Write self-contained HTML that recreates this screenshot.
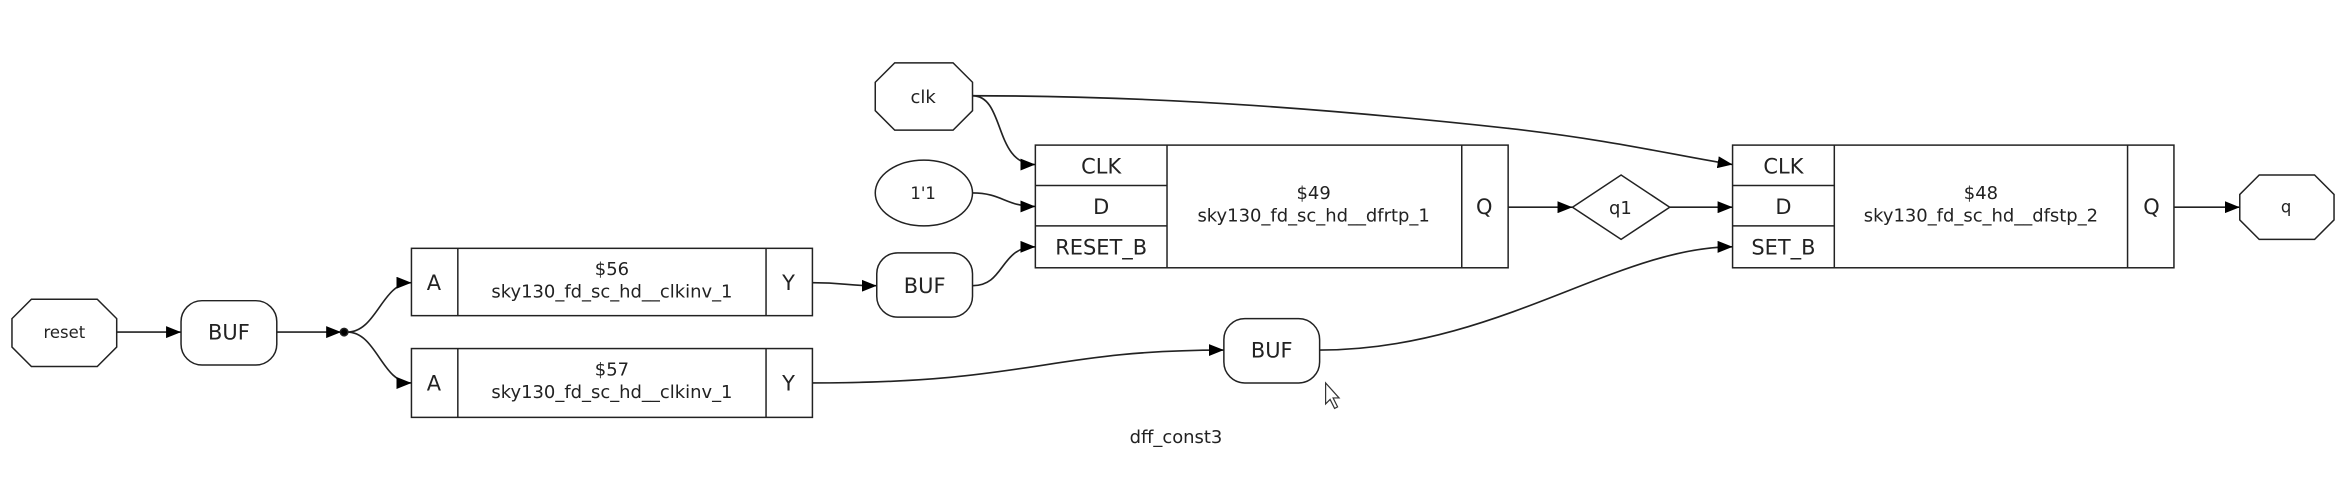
<!DOCTYPE html>
<html><head><meta charset="utf-8"><style>
html,body{margin:0;padding:0;background:#fff;width:2346px;height:482px;overflow:hidden}
svg{display:block}
text{font-family:"DejaVu Sans","Liberation Sans",sans-serif;fill:#222}
</style></head><body>
<svg width="2346" height="482" viewBox="0 0 1568 322.2" preserveAspectRatio="none" xmlns="http://www.w3.org/2000/svg">
<defs><marker id="a" markerWidth="10" markerHeight="8" refX="10" refY="4" orient="auto" markerUnits="userSpaceOnUse"><path d="M0,0 L10,4 L0,8 Z" fill="#000"/></marker></defs>
<g fill="none" stroke="#222" stroke-width="1">
<!-- reset octagon -->
<polygon points="21,200 65,200 78,213 78,232 65,245 21,245 8,232 8,213" fill="#fff"/>
<rect x="121" y="201" width="64" height="43" rx="14" fill="#fff"/>
<circle cx="230" cy="222" r="2.5" fill="#000"/>
<!-- $56 -->
<rect x="275" y="166" width="268" height="45" fill="#fff"/>
<line x1="306" y1="166" x2="306" y2="211"/><line x1="512" y1="166" x2="512" y2="211"/>
<rect x="275" y="233" width="268" height="46" fill="#fff"/>
<line x1="306" y1="233" x2="306" y2="279"/><line x1="512" y1="233" x2="512" y2="279"/>
<rect x="586" y="169" width="64" height="43" rx="14" fill="#fff"/>
<rect x="818" y="213" width="64" height="43" rx="14" fill="#fff"/>
<polygon points="598,42 637,42 650,55 650,74 637,87 598,87 585,74 585,55" fill="#fff"/>
<ellipse cx="617.5" cy="129" rx="32.5" ry="22" fill="#fff"/>
<!-- $49 -->
<rect x="692" y="97" width="316" height="82" fill="#fff"/>
<line x1="780" y1="97" x2="780" y2="179"/><line x1="977" y1="97" x2="977" y2="179"/>
<line x1="692" y1="124" x2="780" y2="124"/><line x1="692" y1="151" x2="780" y2="151"/>
<polygon points="1051,138.5 1083.5,117 1116,138.5 1083.5,160" fill="#fff"/>
<!-- $48 -->
<rect x="1158" y="97" width="295" height="82" fill="#fff"/>
<line x1="1226" y1="97" x2="1226" y2="179"/><line x1="1422" y1="97" x2="1422" y2="179"/>
<line x1="1158" y1="124" x2="1226" y2="124"/><line x1="1158" y1="151" x2="1226" y2="151"/>
<polygon points="1510,117 1547,117 1560,130 1560,147 1547,160 1510,160 1497,147 1497,130" fill="#fff"/>
</g>
<g fill="none" stroke="#222" stroke-width="1.1" marker-end="url(#a)">
<path d="M78,222 L121,222"/>
<path d="M185,222 L228,222"/>
<path d="M232,222 C252,222 255,189 275,189"/>
<path d="M232,222 C252,222 255,256 275,256"/>
<path d="M543,189 C565,189 566,191 586,191"/>
<path d="M543,256 C690,256 700,234 818,234"/>
<path d="M650,191 C672,191 668,165 692,165"/>
<path d="M650,64 C672,64 664,110 692,110"/>
<path d="M650,64 C780,64 900,74 1010,86 C1080,94 1120,104 1158,110"/>
<path d="M650,129 C670,129 672,138 692,138"/>
<path d="M1008,138.5 L1051,138.5"/>
<path d="M1116,138.5 L1158,138.5"/>
<path d="M882,234 C1000,234 1080,165 1158,165"/>
<path d="M1453,138.5 L1497,138.5"/>
</g>
<g text-anchor="middle">
<text x="43" y="226" font-size="11">reset</text>
<text x="153" y="227" font-size="14">BUF</text>
<text x="290" y="194" font-size="14">A</text>
<text x="409" y="184" font-size="12">$56</text>
<text x="409" y="199" font-size="12">sky130_fd_sc_hd__clkinv_1</text>
<text x="527" y="194" font-size="14">Y</text>
<text x="290" y="261" font-size="14">A</text>
<text x="409" y="251" font-size="12">$57</text>
<text x="409" y="266" font-size="12">sky130_fd_sc_hd__clkinv_1</text>
<text x="527" y="261" font-size="14">Y</text>
<text x="618" y="196" font-size="14">BUF</text>
<text x="850" y="239" font-size="14">BUF</text>
<text x="617" y="69" font-size="12">clk</text>
<text x="617" y="133" font-size="11">1'1</text>
<text x="736" y="116" font-size="14">CLK</text>
<text x="736" y="143" font-size="14">D</text>
<text x="736" y="170" font-size="14">RESET_B</text>
<text x="878" y="133" font-size="12">$49</text>
<text x="878" y="148" font-size="12">sky130_fd_sc_hd__dfrtp_1</text>
<text x="992" y="143" font-size="14">Q</text>
<text x="1083" y="143" font-size="12">q1</text>
<text x="1192" y="116" font-size="14">CLK</text>
<text x="1192" y="143" font-size="14">D</text>
<text x="1192" y="170" font-size="14">SET_B</text>
<text x="1324" y="133" font-size="12">$48</text>
<text x="1324" y="148" font-size="12">sky130_fd_sc_hd__dfstp_2</text>
<text x="1438" y="143" font-size="14">Q</text>
<text x="1528" y="142" font-size="11">q</text>
<text x="786" y="296" font-size="12">dff_const3</text>
</g>
<path d="M886,256 L886,270 L889,267 L892,273 L894,272 L891,266 L895,266 Z" fill="#fff" stroke="#333" stroke-width="0.8"/>
</svg>
</body></html>
